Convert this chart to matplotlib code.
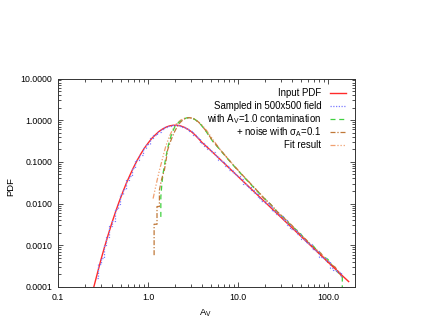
import matplotlib
matplotlib.use("Agg")
import matplotlib.pyplot as plt
from matplotlib.ticker import FuncFormatter, LogLocator

plt.rcParams["font.family"] = ["Liberation Sans", "DejaVu Sans"]
plt.rcParams["mathtext.fontset"] = "custom"
plt.rcParams["mathtext.rm"] = "Liberation Sans"
plt.rcParams["mathtext.it"] = "Liberation Sans"

# input PDF (smooth model)
av_input = [0.25, 0.275, 0.30, 0.331, 0.36, 0.398, 0.44, 0.479, 0.53, 0.575, 0.63, 0.692,
            0.76, 0.832, 0.91, 1.0, 1.1, 1.2, 1.32, 1.445, 1.6, 1.738, 1.9, 2.089, 2.3,
            2.512, 2.75, 3.02, 3.3, 3.63, 4.0, 4.365, 5.248, 6.31, 7.586, 9.12, 10.96,
            13.18, 15.85, 19.05, 22.9, 27.54, 33.11, 39.81, 47.86, 57.54, 69.18, 83.18,
            100.0, 120.2, 144.5, 170.0]
pdf_input = [1.0e-4, 2.2e-4, 4.5e-4, 9.5e-4, 1.75e-3, 3.5e-3, 6.7e-3, 0.0112, 0.0199, 0.0308,
             0.048, 0.074, 0.110, 0.155, 0.212, 0.28, 0.364, 0.44, 0.533, 0.61, 0.686, 0.73,
             0.755, 0.76, 0.73, 0.68, 0.616, 0.535, 0.453, 0.365, 0.29, 0.245, 0.169, 0.116,
             0.0793, 0.0544, 0.0373, 0.0255, 0.0175, 0.0120, 0.00821, 0.00562, 0.00385,
             0.00264, 0.00181, 0.00124, 0.000848, 0.000581, 0.000398, 0.000273, 0.000187,
             0.000135]

# sampled in 500x500 field (histogram, steps)
av_sampled = [0.27, 0.29, 0.31, 0.331, 0.36, 0.38, 0.41, 0.44, 0.479, 0.51, 0.55, 0.59, 0.63,
              0.692, 0.76, 0.832, 0.91, 1.0, 1.1, 1.2, 1.32, 1.445, 1.6, 1.738, 1.9, 2.089,
              2.3, 2.512, 2.75, 3.02, 3.3, 3.63, 4.0, 4.365, 4.8, 5.248, 5.75, 6.31, 6.9,
              7.586, 8.3, 9.12, 10.0, 10.96, 12.0, 13.18, 14.5, 15.85, 17.4, 19.05, 20.9,
              22.9, 25.1, 27.54, 30.2, 33.11, 36.3, 39.81, 43.6, 47.86, 52.5, 57.54, 63.1,
              69.18, 75.9, 83.18, 91.2, 100.0, 109.6, 120.2, 131.8, 144.5]
pdf_sampled = [1.6e-4, 3.6e-4, 5.0e-4, 1.0e-3, 1.6e-3, 2.9e-3, 3.8e-3, 7.4e-3, 0.0100, 0.0168,
               0.0230, 0.036, 0.046, 0.071, 0.114, 0.150, 0.218, 0.275, 0.37, 0.44, 0.52,
               0.62, 0.68, 0.735, 0.75, 0.765, 0.725, 0.68, 0.61, 0.54, 0.445, 0.37, 0.285,
               0.24, 0.205, 0.172, 0.140, 0.113, 0.097, 0.081, 0.063, 0.053, 0.046, 0.038,
               0.030, 0.0248, 0.0215, 0.0180, 0.0140, 0.0115, 0.0101, 0.0086, 0.0066, 0.0055,
               0.0050, 0.0040, 0.0030, 0.0025, 0.0023, 0.0019, 0.0014, 0.00118, 0.00110,
               0.00082, 0.00075, 0.00052, 0.00050, 0.00043, 0.00028, 0.00025, 0.00023,
               0.00018]

# with A_V=1.0 contamination
av_contam = [1.39, 1.39, 1.43, 1.47, 1.52, 1.57, 1.62, 1.68, 1.75, 1.83, 1.92, 2.02, 2.15,
             2.3, 2.47, 2.66, 2.87, 3.1, 3.35, 3.63, 3.93, 4.365, 5.248, 6.31, 7.586, 9.12,
             10.96, 13.18, 15.85, 19.05, 22.9, 27.54, 33.11, 39.81, 47.86, 57.54, 69.18,
             83.18, 100.0, 120.2, 144.5, 144.5]
pdf_contam = [0.0048, 0.0145, 0.031, 0.052, 0.081, 0.117, 0.170, 0.243, 0.34, 0.457, 0.59,
              0.755, 0.85, 0.95, 1.05, 1.13, 1.156, 1.12, 1.03, 0.90, 0.75, 0.563, 0.31,
              0.196, 0.122, 0.0775, 0.050, 0.0325, 0.0214, 0.01415, 0.0098, 0.0061, 0.0044,
              0.0028, 0.0021, 0.00125, 0.00095, 0.00058, 0.00046, 0.00026, 0.00018, 0.0001]

# + noise with sigma_A=0.1
av_noise = [1.17, 1.17, 1.26, 1.26, 1.34, 1.34, 1.40, 1.46, 1.52, 1.58, 1.65, 1.72, 1.80,
            1.90, 2.0, 2.13, 2.28, 2.45, 2.64, 2.85, 3.08, 3.33, 3.63, 3.93, 4.365, 5.248,
            6.31, 7.586, 9.12, 10.96, 13.18, 15.85, 19.05, 22.9, 27.54, 33.11, 39.81, 47.86,
            57.54, 69.18, 83.18, 100.0, 120.2, 144.5]
pdf_noise = [5.8e-4, 0.0032, 0.0032, 0.0085, 0.0085, 0.021, 0.034, 0.048, 0.063, 0.10, 0.19,
             0.25, 0.33, 0.44, 0.56, 0.72, 0.88, 1.02, 1.12, 1.15, 1.12, 1.04, 0.91, 0.76,
             0.57, 0.32, 0.20, 0.125, 0.079, 0.051, 0.0335, 0.0220, 0.0140, 0.0097, 0.0063,
             0.0043, 0.0030, 0.0019, 0.00135, 0.00088, 0.00065, 0.00039, 0.00030, 0.00017]

# fit result (smooth)
av_fit = [1.14, 1.2, 1.27, 1.34, 1.42, 1.5, 1.58, 1.7, 1.85, 2.05, 2.3, 2.6, 2.88, 3.2, 3.6,
          4.0, 4.5, 5.2, 6.3, 7.6, 9.1, 11.0, 15.85, 22.9, 33.1, 47.9, 69.2, 100.0, 144.5]
pdf_fit = [0.0132, 0.022, 0.038, 0.063, 0.10, 0.16, 0.24, 0.37, 0.56, 0.80, 1.0, 1.13, 1.16,
           1.10, 0.93, 0.76, 0.56, 0.36, 0.20, 0.125, 0.08, 0.051, 0.022, 0.0096, 0.0043,
           0.00195, 0.0009, 0.00042, 0.00019]

labels = ["Input PDF", "Sampled in 500x500 field",
          r"with $\mathrm{A_V}$=1.0 contamination",
          r"+ noise with $\sigma_\mathrm{A}$=0.1", "Fit result"]

fig = plt.figure(figsize=(4.23, 3.27), dpi=100)
ax = fig.add_axes([58 / 423, 1 - 287 / 327, 297 / 423, 208.5 / 327])

lw = 0.9
styles = [
    dict(color="#ff2a2a", lw=1.0, linestyle="-"),
    dict(color="#7a7aff", lw=lw, linestyle=(0, (1, 1.2))),
    dict(color="#40d040", lw=lw, linestyle=(0, (4, 3))),
    dict(color="#c07838", lw=lw, linestyle=(0, (4, 1.5, 1, 1.5))),
    dict(color="#f0a070", lw=lw, linestyle=(0, (4, 1.5, 1, 1.5, 1, 1.5, 1, 1.5))),
]

ax.plot(av_fit, pdf_fit, zorder=2, **styles[4])
ax.plot(av_contam, pdf_contam, zorder=2.2, **styles[2])
ax.plot(av_noise, pdf_noise, zorder=2.4, **styles[3])
ax.plot(av_input, pdf_input, zorder=3, **styles[0])
ax.plot(av_sampled, pdf_sampled, zorder=3.2, drawstyle="steps-mid", **styles[1])

ax.set_xscale("log")
ax.set_yscale("log")
ax.set_xlim(0.1, 200)
ax.set_ylim(1e-4, 10)

ax.xaxis.set_major_formatter(FuncFormatter(lambda v, p: f"{v:.1f}"))
ax.yaxis.set_major_formatter(FuncFormatter(lambda v, p: f"{v:.4f}"))
ax.xaxis.set_minor_locator(LogLocator(base=10, subs=range(2, 10)))
ax.yaxis.set_minor_locator(LogLocator(base=10, subs=range(2, 10)))
ax.xaxis.set_minor_formatter(plt.NullFormatter())
ax.yaxis.set_minor_formatter(plt.NullFormatter())

ax.tick_params(which="both", direction="in", top=True, right=True, labelsize=6.3,
               width=0.6, colors="#333333", labelcolor="black")
ax.tick_params(which="major", length=3.5, pad=4)
ax.tick_params(which="minor", length=2)
for s in ax.spines.values():
    s.set_linewidth(0.7)
    s.set_color("#333333")

ax.set_xlabel(r"$\mathrm{A_V}$", fontsize=6.8)
ax.set_ylabel("PDF", fontsize=6.8)
ax.xaxis.set_label_coords(0.495, -0.095)
ax.yaxis.set_label_coords(-0.145, 0.48)

# legend drawn by hand: text right-aligned, line sample to its right
for i, (lab, st) in enumerate(zip(labels, styles)):
    yrow = (287 - (93 + 13.1 * i)) / 208.5
    ax.text(0.886, yrow, lab, transform=ax.transAxes, ha="right", va="center",
            fontsize=6.9)
    ax.plot([0.916, 0.97], [yrow, yrow], transform=ax.transAxes, clip_on=False, **st)

fig.savefig("out.png", dpi=100)
